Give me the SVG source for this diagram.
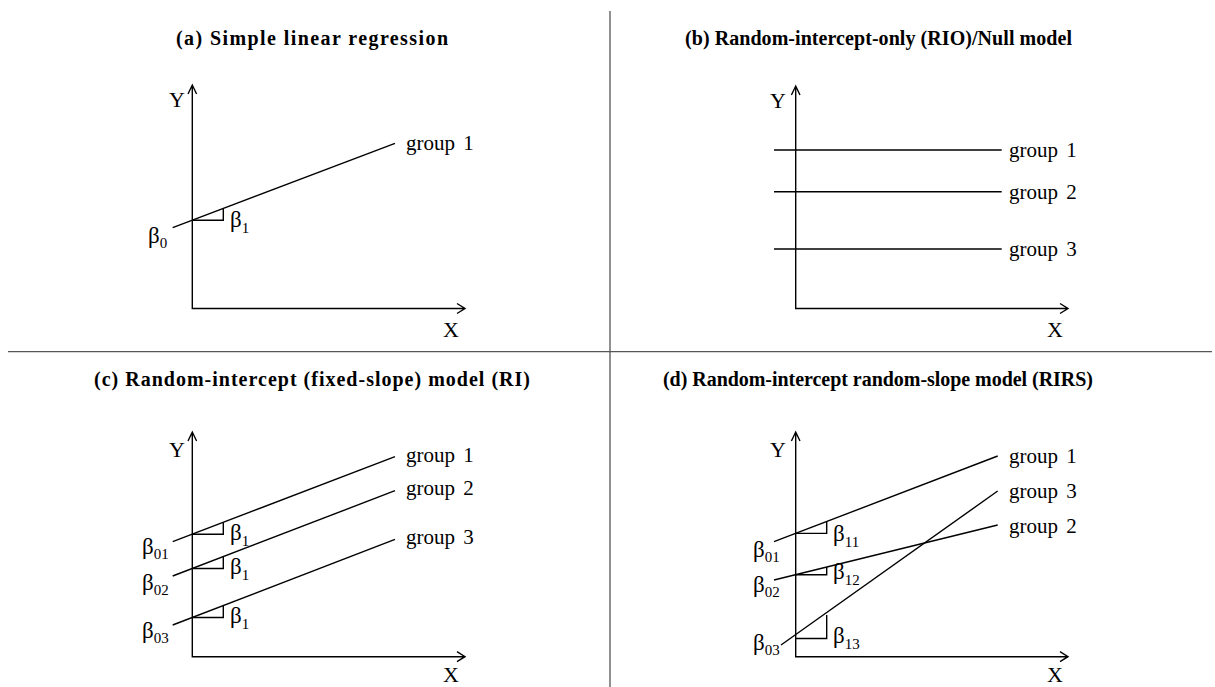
<svg xmlns="http://www.w3.org/2000/svg" width="1215" height="687" viewBox="0 0 1215 687">
<style>
.t{font-family:"Liberation Serif","Times New Roman",serif;font-weight:bold;font-size:20px;fill:#000}
.l{font-family:"Liberation Serif","Times New Roman",serif;font-size:22px;fill:#000}
.b{font-family:"Liberation Serif","Times New Roman",serif;font-size:23px;fill:#000}
.g{font-family:"Liberation Serif","Times New Roman",serif;font-size:21px;fill:#000;word-spacing:3px}
.s{font-size:15px}
.ln{stroke:#000;stroke-width:1.4;fill:none}
.ax{stroke:#000;stroke-width:1.4;fill:none}
.dv{stroke:#555;stroke-width:1.3}
</style>
<rect width="1215" height="687" fill="#fff"/>
<g id="dividers">
<line class="dv" x1="610" y1="11" x2="610" y2="687"/>
<line class="dv" x1="8" y1="351.7" x2="1212" y2="351.7"/>
</g>
<g id="panel-a">
<text class="t" x="176" y="45" textLength="272">(a) Simple linear regression</text>
<path class="ax" d="M192.3,85 V308.5 H465 M188,94 L192.3,85 L196.6,94 M457,303.5 L465,308.5 L457,313.5"/>
<text class="l" x="177" y="107" text-anchor="middle">Y</text>
<text class="l" x="451" y="337" text-anchor="middle">X</text>
<line class="ln" x1="172.7" y1="227.7" x2="395" y2="143.3"/>
<path class="ln" d="M192.3,220.3 H223.3 V208.5"/>
<text class="b" x="230" y="226.5">β<tspan class="s" dy="6">1</tspan></text>
<text class="b" x="148" y="243">β<tspan class="s" dy="5">0</tspan></text>
<text class="g" x="406" y="150">group 1</text>
</g>
<g id="panel-b">
<text class="t" x="685" y="45" textLength="387">(b) Random-intercept-only (RIO)/Null model</text>
<path class="ax" d="M795.7,86 V308.5 H1068 M791.4,95 L795.7,86 L800,95 M1060,303.5 L1068,308.5 L1060,313.5"/>
<text class="l" x="778" y="108" text-anchor="middle">Y</text>
<text class="l" x="1055" y="337" text-anchor="middle">X</text>
<line class="ln" x1="774" y1="150" x2="1001.7" y2="150"/>
<line class="ln" x1="774" y1="191.7" x2="1001.7" y2="191.7"/>
<line class="ln" x1="774" y1="249" x2="1001.7" y2="249"/>
<text class="g" x="1009" y="157">group 1</text>
<text class="g" x="1009" y="198.5">group 2</text>
<text class="g" x="1009" y="255.5">group 3</text>
</g>
<g id="panel-c">
<text class="t" x="94" y="386" textLength="436">(c) Random-intercept (fixed-slope) model (RI)</text>
<path class="ax" d="M192.3,432 V656.7 H465 M188,441 L192.3,432 L196.6,441 M457,651.7 L465,656.7 L457,661.7"/>
<text class="l" x="177" y="457" text-anchor="middle">Y</text>
<text class="l" x="451" y="682" text-anchor="middle">X</text>
<line class="ln" x1="172.7" y1="541.7" x2="395" y2="456.7"/>
<line class="ln" x1="172.7" y1="576" x2="395" y2="490.7"/>
<line class="ln" x1="172.7" y1="625" x2="395" y2="539.3"/>
<path class="ln" d="M192.3,534.2 H223.3 V522.4"/>
<path class="ln" d="M192.3,568.5 H223.3 V556.7"/>
<path class="ln" d="M192.3,617.5 H223.3 V605.7"/>
<text class="b" x="230" y="540">β<tspan class="s" dy="6">1</tspan></text>
<text class="b" x="230" y="574">β<tspan class="s" dy="6">1</tspan></text>
<text class="b" x="230" y="622.5">β<tspan class="s" dy="6">1</tspan></text>
<text class="b" x="142" y="554">β<tspan class="s" dy="5">01</tspan></text>
<text class="b" x="142" y="590">β<tspan class="s" dy="5">02</tspan></text>
<text class="b" x="142" y="638">β<tspan class="s" dy="5">03</tspan></text>
<text class="g" x="406" y="461.7">group 1</text>
<text class="g" x="406" y="495">group 2</text>
<text class="g" x="406" y="544">group 3</text>
</g>
<g id="panel-d">
<text class="t" x="663" y="386" textLength="430">(d) Random-intercept random-slope model (RIRS)</text>
<path class="ax" d="M795.7,432 V656.7 H1068 M791.4,441 L795.7,432 L800,441 M1060,651.7 L1068,656.7 L1060,661.7"/>
<text class="l" x="778" y="457" text-anchor="middle">Y</text>
<text class="l" x="1055" y="682" text-anchor="middle">X</text>
<line class="ln" x1="774" y1="541.7" x2="997.7" y2="456"/>
<line class="ln" x1="774" y1="580" x2="997.7" y2="525"/>
<line class="ln" x1="781" y1="645" x2="997.7" y2="491"/>
<path class="ln" d="M795.7,533.4 H826.7 V521.5"/>
<path class="ln" d="M795.7,574.7 H826.7 V567"/>
<path class="ln" d="M795.7,638.5 H826.7 V615"/>
<text class="b" x="833" y="541">β<tspan class="s" dy="6">11</tspan></text>
<text class="b" x="833" y="579">β<tspan class="s" dy="6">12</tspan></text>
<text class="b" x="833" y="643">β<tspan class="s" dy="6">13</tspan></text>
<text class="b" x="753" y="557">β<tspan class="s" dy="5">01</tspan></text>
<text class="b" x="753" y="592">β<tspan class="s" dy="5">02</tspan></text>
<text class="b" x="753" y="650">β<tspan class="s" dy="5">03</tspan></text>
<text class="g" x="1009" y="463">group 1</text>
<text class="g" x="1009" y="498">group 3</text>
<text class="g" x="1009" y="533">group 2</text>
</g>
</svg>
